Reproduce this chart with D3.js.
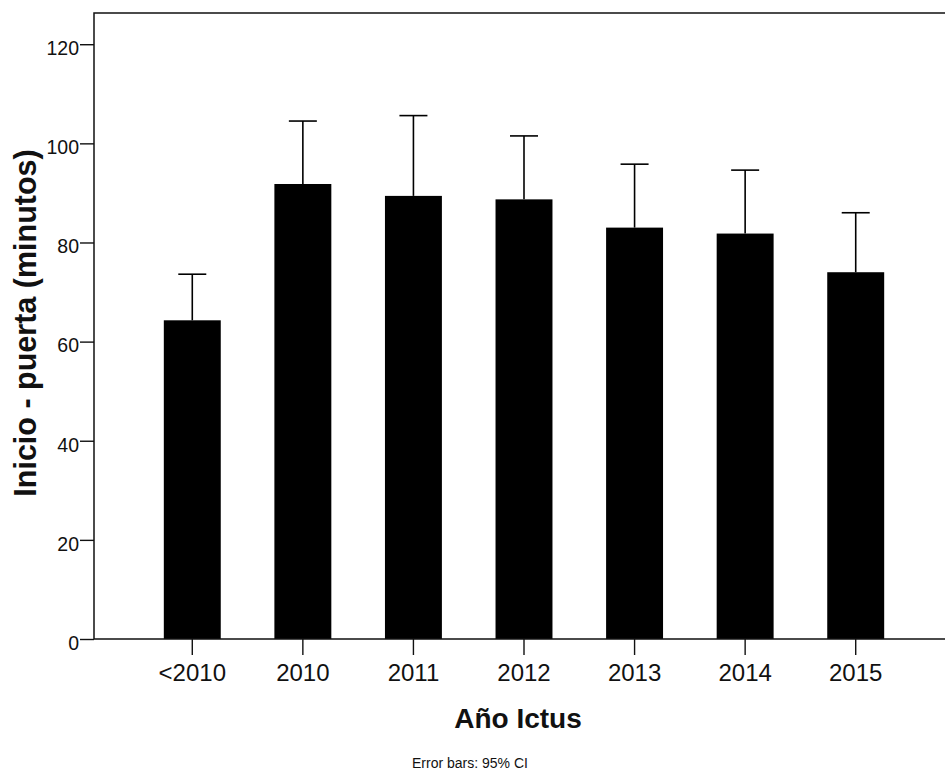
<!DOCTYPE html>
<html>
<head>
<meta charset="utf-8">
<script src="https://cdn.jsdelivr.net/npm/d3@7"></script>
<style>
  body { margin: 0; background: #fff; }
  svg { display: block; font-family: Arial, "Liberation Sans", sans-serif; }
</style>
</head>
<body>
<svg id="chart" width="945" height="776"></svg>
<script>
var categories = ['<2010', '2010', '2011', '2012', '2013', '2014', '2015'];
var means = [64.3, 91.8, 89.4, 88.7, 83.0, 81.8, 74.0];
var ciUpper = [73.6, 104.5, 105.6, 101.5, 95.8, 94.6, 86.0];
var yTickValues = [0, 20, 40, 60, 80, 100, 120];

var svg = d3.select('#chart');
var frame = { left: 94, top: 13, right: 945, bottom: 639 };

/*
 * Scales
 */
var x = d3.scaleBand()
  .domain(categories)
  .range([137, 911])
  .paddingInner(0.485)
  .paddingOuter(0.2425);

var y = d3.scaleLinear()
  .domain([0, 126.3])
  .range([frame.bottom, frame.top]);

var data = categories.map(function(c, i) {
  return { cat: c, mean: means[i], upper: ciUpper[i] };
});

/*
 * Bars
 */
svg.append('g').selectAll('rect')
  .data(data)
  .enter().append('rect')
  .attr('x', function(d) { return x(d.cat); })
  .attr('y', function(d) { return y(d.mean); })
  .attr('width', x.bandwidth())
  .attr('height', function(d) { return y(0) - y(d.mean); })
  .attr('fill', '#000');

// Error bars (upper half only, the bar covers the rest)
var err = svg.append('g').selectAll('g')
  .data(data)
  .enter().append('g')
  .attr('transform', function(d) {
    return 'translate(' + (x(d.cat) + x.bandwidth() / 2) + ',0)';
  });

err.append('line')
  .attr('x1', 0).attr('x2', 0)
  .attr('y1', function(d) { return y(d.mean); })
  .attr('y2', function(d) { return y(d.upper); })
  .attr('stroke', '#000')
  .attr('stroke-width', 1.6);

err.append('line')
  .attr('x1', -14).attr('x2', 14)
  .attr('y1', function(d) { return y(d.upper); })
  .attr('y2', function(d) { return y(d.upper); })
  .attr('stroke', '#000')
  .attr('stroke-width', 1.6);

/*
 * Axes
 */
var yAxis = svg.append('g')
  .attr('transform', 'translate(' + frame.left + ',0)')
  .call(d3.axisLeft(y).tickValues(yTickValues).tickSize(14).tickSizeOuter(0).tickPadding(1));
yAxis.select('.domain').remove();
yAxis.selectAll('.tick line').attr('stroke', '#111').attr('stroke-width', 1.4);
yAxis.selectAll('.tick text')
  .attr('font-size', 19.5)
  .attr('fill', '#111')
  .attr('dy', '0.53em');

var xAxis = svg.append('g')
  .attr('transform', 'translate(0,' + frame.bottom + ')')
  .call(d3.axisBottom(x).tickSize(16).tickSizeOuter(0));
xAxis.select('.domain').remove();
xAxis.selectAll('.tick line').attr('stroke', '#111').attr('stroke-width', 1.4);
xAxis.selectAll('.tick text')
  .attr('font-size', 24)
  .attr('fill', '#111')
  .attr('y', 42)
  .attr('dy', 0);

// Frame: left, top, bottom
svg.append('path')
  .attr('d', 'M' + frame.right + ',' + frame.top + 'H' + frame.left +
    'V' + frame.bottom + 'H' + frame.right)
  .attr('fill', 'none')
  .attr('stroke', '#111')
  .attr('stroke-width', 1.5);

/*
 * Titles
 */
svg.append('text')
  .attr('x', 518)
  .attr('y', 728)
  .attr('text-anchor', 'middle')
  .attr('font-size', 28)
  .attr('font-weight', 'bold')
  .attr('fill', '#111')
  .text('Año Ictus');

svg.append('text')
  .attr('transform', 'translate(36,323) rotate(-90)')
  .attr('text-anchor', 'middle')
  .attr('font-size', 30.5)
  .attr('font-weight', 'bold')
  .attr('fill', '#111')
  .text('Inicio - puerta (minutos)');

svg.append('text')
  .attr('x', 470)
  .attr('y', 768)
  .attr('text-anchor', 'middle')
  .attr('font-size', 14)
  .attr('fill', '#111')
  .text('Error bars: 95% CI');
</script>
</body>
</html>
